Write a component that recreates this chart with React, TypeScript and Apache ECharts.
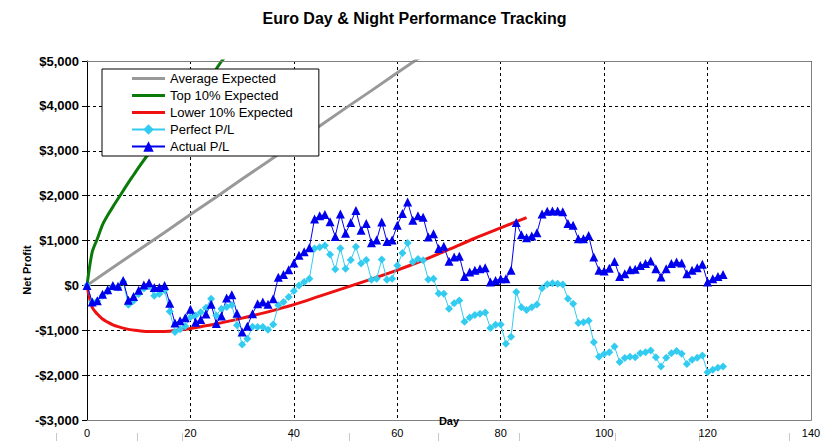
import { useEffect, useRef } from 'react';
import * as echarts from 'echarts';

// Perfect / Actual P/L: one value per trading day, day 0..123
const actualPL = [
  0, -370, -340, -200, -100, 0, -20, 110, -330, -250,
  -110, 10, 60, -50, -50, 0, -400, -840, -790, -720,
  -530, -820, -760, -640, -420, -850, -680, -280, -210, -620,
  -1040, -910, -630, -410, -370, -420, -300, 180, 240, 350,
  500, 670, 750, 840, 1480, 1550, 1580, 1420, 1090, 1590,
  1160, 1400, 1670, 1230, 1380, 950, 1010, 1410, 980, 1010,
  1340, 1600, 1860, 1450, 1550, 1520, 1080, 1150, 820, 870,
  540, 630, 650, 200, 300, 335, 370, 390, 75, 110,
  150, 150, 335, 1400, 1130, 1060, 1100, 1170, 1590, 1650,
  1660, 1660, 1640, 1380, 1340, 1040, 1040, 1110, 630, 335,
  320, 380, 530, 200, 260, 350, 360, 445, 485, 545,
  370, 185, 370, 485, 520, 500, 260, 335, 395, 470,
  75, 150, 200, 245,
];

const perfectPL = [
  0, -370, -350, -230, -130, -30, -50, 80, -430, -340,
  -190, -70, -20, -230, -190, -110, -580, -1040, -980, -910,
  -710, -670, -600, -500, -300, -670, -520, -480, -440, -890,
  -1320, -1190, -920, -930, -930, -990, -870, -445, -370, -260,
  -125, 0, 75, 150, 820, 850, 890, 690, 360, 830,
  370, 565, 860, 490, 565, 125, 150, 575, 125, 145,
  445, 720, 945, 520, 585, 560, 130, 150, -180, -185,
  -520, -400, -335, -810, -715, -660, -630, -605, -950, -880,
  -870, -1300, -1145, -150, -485, -550, -490, -425, -65, 25,
  50, 35, 20, -300, -410, -840, -820, -790, -1265, -1590,
  -1530, -1490, -1360, -1710, -1620, -1590, -1600, -1510, -1490, -1450,
  -1600, -1810, -1615, -1510, -1465, -1525, -1750, -1660, -1615, -1560,
  -1935, -1880, -1835, -1810,
];

// expected curves, read at selected days
const avgDays = [0, 5, 10, 15, 20, 25, 30, 35, 40, 45, 50, 55, 60, 65, 70];
const avgValues = [0, 400, 790, 1180, 1580, 1970, 2370, 2760, 3160, 3550, 3950, 4340, 4740, 5130, 5530];

const topDays = [0, 1, 2, 3, 4, 5, 6, 7, 8, 9, 10, 12, 14, 16, 18, 20, 22, 24, 26, 28, 30];
const topValues = [0, 740, 1040, 1350, 1560, 1750, 1930, 2110, 2290, 2460, 2630, 2950, 3260, 3550, 3830, 4110, 4380, 4650, 4990, 5250, 5500];

const lowDays = [0, 1, 2, 3, 4, 5, 6, 8, 10, 12, 14, 16, 18, 20, 22, 25, 30, 35, 40, 45, 50, 55, 60, 65, 70, 75, 80, 85];
const lowValues = [0, -490, -640, -750, -820, -880, -920, -980, -1010, -1030, -1030, -1020, -990, -960, -920, -860, -730, -590, -430, -240, -50, 140, 340, 560, 800, 1050, 1280, 1510];

const FONT = 'Arial, "Liberation Sans", sans-serif';

// plain thick line for the legend (the two zero-area slivers pin the icon box to 33x13)
const LINE_ICON = 'path://M0,0L0.01,0Z M33,13L32.99,13Z M0,5L33,5L33,8L0,8Z';

const pairs = (xs: number[], ys: number[]) => xs.map((x, i) => [x, ys[i]]);
const daily = (ys: number[]) => ys.map((y, i) => [i, y]);

function formatMoney(v: number): string {
  const s = '$' + Math.abs(v).toLocaleString('en-US');
  return v < 0 ? '-' + s : s;
}

// faint marks under the chart
const bottomMarks = [56, 137, 182, 291, 349, 438, 519, 615, 699, 789];

export default function App() {
  const ref = useRef<HTMLDivElement>(null);

  useEffect(() => {
    document.body.style.margin = '0';
    if (!ref.current) return;
    const chart = echarts.init(ref.current, undefined, { renderer: 'svg' });

    const option: echarts.EChartsOption = {
      animation: false,
      backgroundColor: '#ffffff',
      textStyle: { fontFamily: FONT },
      title: {
        text: 'Euro Day & Night Performance Tracking',
        left: 'center',
        top: 5,
        textStyle: { fontFamily: FONT, fontSize: 16, fontWeight: 'bold', color: '#000' },
      },
      legend: {
        orient: 'vertical',
        left: 102,
        top: 69,
        padding: [3, 26, 3, 29],
        itemWidth: 33,
        itemHeight: 13,
        itemGap: 4,
        backgroundColor: '#ffffff',
        borderColor: '#000000',
        borderWidth: 1,
        borderRadius: 0,
        textStyle: { fontFamily: FONT, fontSize: 13, color: '#000' },
        data: [
          { name: 'Average Expected', icon: LINE_ICON },
          { name: 'Top 10% Expected', icon: LINE_ICON },
          { name: 'Lower 10% Expected', icon: LINE_ICON },
          'Perfect P/L',
          'Actual P/L',
        ],
      },
      grid: { left: 87, right: 18, top: 61, bottom: 21 },
      xAxis: {
        type: 'value',
        min: 0,
        max: 140,
        interval: 20,
        axisLine: { onZero: true, lineStyle: { color: '#000', width: 1 } },
        axisTick: { show: true, length: 5, lineStyle: { color: '#000' } },
        axisLabel: { fontFamily: FONT, fontSize: 11, color: '#000', margin: 7 },
        splitLine: { show: true, lineStyle: { color: '#000', type: [3, 3], width: 1 } },
      },
      yAxis: {
        type: 'value',
        min: -3000,
        max: 5000,
        interval: 1000,
        axisLine: { show: true, onZero: false, lineStyle: { color: '#000', width: 1 } },
        axisTick: { show: true, length: 5, lineStyle: { color: '#000' } },
        axisLabel: {
          fontFamily: FONT,
          fontSize: 13,
          fontWeight: 'bold',
          color: '#000',
          margin: 8,
          formatter: (v: number) => formatMoney(v),
        },
        splitLine: { show: true, lineStyle: { color: '#000', type: [3, 3], width: 1 } },
      },
      graphic: [
        {
          type: 'polyline',
          z: 100,
          silent: true,
          shape: { points: [[87, 61.5], [811.5, 61.5], [811.5, 420.5], [87, 420.5]] },
          style: { fill: 'none', stroke: '#808080', lineWidth: 1 },
        },
        {
          type: 'text',
          z: 101,
          x: 449,
          y: 421,
          style: {
            text: 'Day',
            font: `bold 11px ${FONT}`,
            fill: '#000',
            textAlign: 'center',
            textVerticalAlign: 'middle',
          },
        },
        {
          type: 'text',
          z: 101,
          x: 27,
          y: 270,
          rotation: Math.PI / 2,
          style: {
            text: 'Net Profit',
            font: `bold 11px ${FONT}`,
            fill: '#000',
            textAlign: 'center',
            textVerticalAlign: 'middle',
          },
        },
        ...bottomMarks.map((x) => ({
          type: 'line' as const,
          silent: true,
          shape: { x1: x + 0.5, y1: 433, x2: x + 0.5, y2: 441 },
          style: { stroke: '#c8c8c8', lineWidth: 1 },
        })),
      ],
      series: [
        {
          name: 'Average Expected',
          type: 'line',
          data: pairs(avgDays, avgValues),
          symbol: 'none',
          lineStyle: { color: '#999999', width: 3 },
          itemStyle: { color: '#999999' },
        },
        {
          name: 'Top 10% Expected',
          type: 'line',
          data: pairs(topDays, topValues),
          symbol: 'none',
          smooth: 0.3,
          lineStyle: { color: '#0a7a0a', width: 3 },
          itemStyle: { color: '#0a7a0a' },
        },
        {
          name: 'Lower 10% Expected',
          type: 'line',
          data: pairs(lowDays, lowValues),
          symbol: 'none',
          smooth: 0.3,
          lineStyle: { color: '#ee1111', width: 3 },
          itemStyle: { color: '#ee1111' },
        },
        {
          name: 'Perfect P/L',
          type: 'line',
          data: daily(perfectPL),
          symbol: 'diamond',
          symbolSize: 8,
          lineStyle: { color: '#33ccf0', width: 1 },
          itemStyle: { color: '#33ccf0' },
        },
        {
          name: 'Actual P/L',
          type: 'line',
          data: daily(actualPL),
          symbol: 'triangle',
          symbolSize: 9,
          lineStyle: { color: '#0000ee', width: 1 },
          itemStyle: { color: '#0000ee' },
        },
      ],
    };

    chart.setOption(option);
    return () => chart.dispose();
  }, []);

  return <div ref={ref} style={{ width: 829, height: 441 }} />;
}
